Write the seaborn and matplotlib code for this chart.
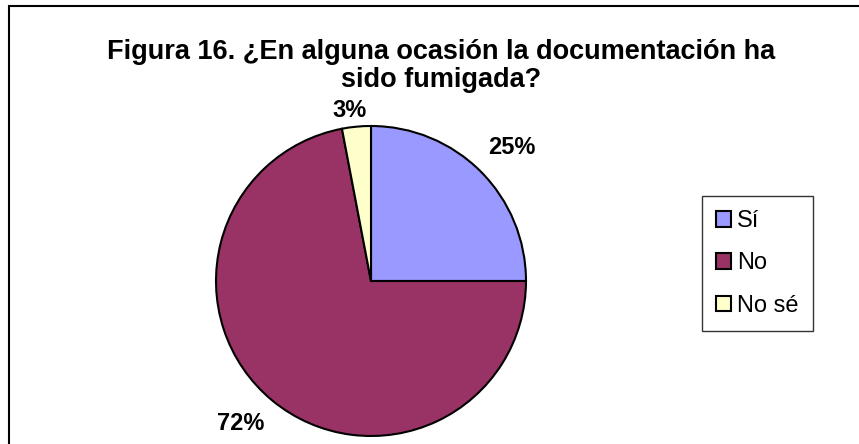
import numpy as np
import matplotlib
matplotlib.use("Agg")
import matplotlib.pyplot as plt
import matplotlib.patches as mpatches
import seaborn as sns

sns.set_theme(style="white")
plt.rcParams["font.family"] = ["Liberation Sans", "DejaVu Sans"]
plt.rcParams["text.color"] = "black"

# data
categories = ["Sí", "No", "No sé"]
shares = [25, 72, 3]
slice_colors = ["#9999FF", "#993366", "#FFFFCC"]
title_text = "Figura 16. ¿En alguna ocasión la documentación ha\nsido fumigada?"

W, H = 859, 444
fig = plt.figure(figsize=(W / 100, H / 100), dpi=100)
fig.patch.set_facecolor("white")

# outer chart frame (right/bottom edges fall outside the image)
frame = mpatches.Rectangle((9 / W, -0.05), 1.0, 1 - 6.5 / H + 0.05,
                           transform=fig.transFigure, fill=False,
                           edgecolor="black", linewidth=1.5)
fig.patches.append(frame)

fig.text(441 / W, 1 - 66 / H, title_text, ha="center", va="center",
         fontsize=19.5, fontweight="bold", linespacing=1.13, color="black")

# pie: center (371, 281), radius 155 px
R = 155
cx, cy = 371, 281
ax = fig.add_axes([(cx - R) / W, (H - cy - R) / H, 2 * R / W, 2 * R / H])
wedges, texts, autotexts = ax.pie(
    shares, colors=slice_colors, startangle=90, counterclock=False,
    autopct="%d%%", pctdistance=1.0, radius=1,
    wedgeprops=dict(edgecolor="black", linewidth=1.5),
    textprops=dict(fontsize=17, fontweight="bold", color="black"),
)
ax.set_xlim(-1, 1)
ax.set_ylim(-1, 1)
ax.set_aspect("equal")
ax.axis("off")

# push each percentage label out to where the reference puts it
label_scale = [1.255, 1.245, 1.11]
label_turn = [-1.5, -2.7, 1.6]  # degrees
for t, s, d in zip(autotexts, label_scale, label_turn):
    x, y = t.get_position()
    a = np.arctan2(y, x) + np.radians(d)
    r = np.hypot(x, y) * s
    t.set_position((r * np.cos(a), r * np.sin(a)))

handles = [mpatches.Patch(facecolor=c, edgecolor="black", linewidth=1.5)
           for c in slice_colors]
leg = fig.legend(handles, categories, loc="upper left",
                 bbox_to_anchor=(702 / W, 1 - 196 / H), frameon=True,
                 fancybox=False, fontsize=17, labelspacing=0.86,
                 handlelength=0.64, handleheight=0.64, handletextpad=0.25,
                 borderpad=0.6, borderaxespad=0)
leg.get_frame().set_edgecolor("black")
leg.get_frame().set_linewidth(1.0)
for txt in leg.get_texts():
    txt.set_color("black")

fig.savefig("out.png", dpi=100, facecolor="white")
